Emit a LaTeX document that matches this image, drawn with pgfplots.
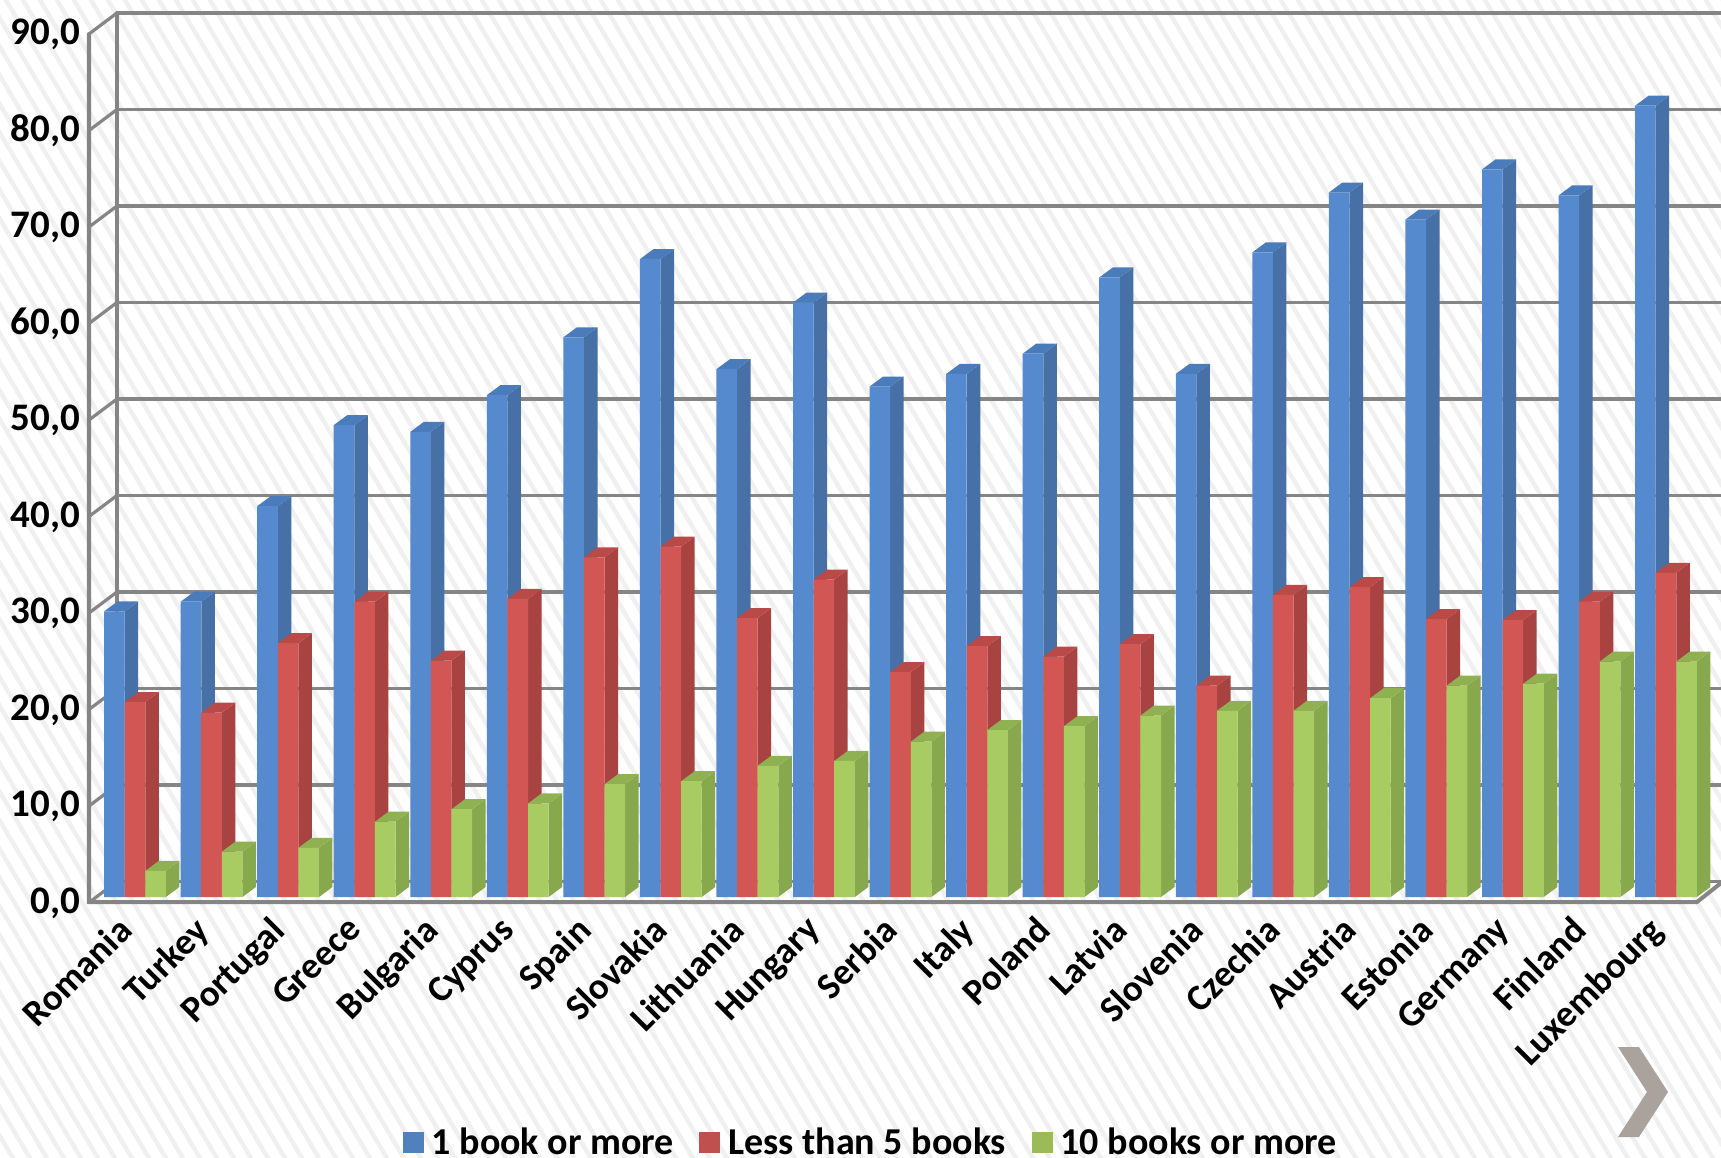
\documentclass[border=0pt]{standalone}
\usepackage{pgfplots}
\usepackage{pgfplotstable}
\pgfplotsset{compat=1.18}
\usepackage{fontspec}
\setmainfont{Carlito}
\definecolor{bF}{HTML}{558ACF}\definecolor{bS}{HTML}{4670A6}\definecolor{bT}{HTML}{4A7BBB}
\definecolor{rF}{HTML}{D25654}\definecolor{rS}{HTML}{A84341}\definecolor{rT}{HTML}{BA4A48}
\definecolor{gF}{HTML}{A8CC62}\definecolor{gS}{HTML}{88A84E}\definecolor{gT}{HTML}{90B152}
\definecolor{bL}{HTML}{4F81BD}\definecolor{rL}{HTML}{C0504D}\definecolor{gL}{HTML}{9BBB59}
\definecolor{wall}{HTML}{858585}
\definecolor{stripe}{HTML}{F0F0F0}
\definecolor{chev}{HTML}{A9A29D}
\pgfplotstableread{
idx one five ten
0 29.6 20.2 2.7
1 30.6 19.1 4.7
2 40.5 26.3 5.1
3 48.9 30.6 7.8
4 48.2 24.5 9.1
5 52.0 30.9 9.7
6 58.0 35.2 11.7
7 66.1 36.3 12.0
8 54.7 28.9 13.6
9 61.6 32.9 14.1
10 52.9 23.3 16.1
11 54.2 26.0 17.3
12 56.3 24.9 17.7
13 64.2 26.2 18.8
14 54.2 21.9 19.3
15 66.8 31.3 19.3
16 73.0 32.1 20.6
17 70.2 28.8 21.9
18 75.4 28.7 22.1
19 72.7 30.6 24.4
20 82.0 33.6 24.4
}\books
% side and top faces of one series: table column, group shift, side colour, top colour
\newcommand\faces[4]{%
  \pgfplotsforeachungrouped \i in {0,...,20}{%
    \pgfplotstablegetelem{\i}{#1}\of{\books}\let\v\pgfplotsretval
    \pgfmathsetmacro\xl{\i+(#2)-0.1345}%
    \pgfmathsetmacro\xr{\i+(#2)+0.1345}%
    \pgfmathsetmacro\xrd{\xr+0.1764}%
    \pgfmathsetmacro\xld{\xl+0.1764}%
    \pgfmathsetmacro\vd{\v+1.036}%
    \edef\cmd{\noexpand\addplot[forget plot,fill=#3,draw=none] coordinates {(\xr,0) (\xrd,1.036) (\xrd,\vd) (\xr,\v)} --cycle;
      \noexpand\addplot[forget plot,fill=#4,draw=none] coordinates {(\xl,\v) (\xld,\vd) (\xrd,\vd) (\xr,\v)} --cycle;}%
    \cmd
  }%
}
\begin{document}
\begin{tikzpicture}
\path[use as bounding box] (-44.5pt,-130.5pt) rectangle (816pt,448.5pt);
\begin{scope}[shift={(-44.5pt,448.5pt)},x=0.5pt,y=-0.5pt]
  \fill[white] (0,0) rectangle (1721,1158);
  \clip (0,0) rectangle (1721,1158);
  \foreach \k in {-45,...,105}{
    \draw[stripe,line width=2.2pt] ({\k*17},-10) -- ({\k*17+700},1170);
  }
  % back wall, grid, floor
  \begin{scope}[wall,line cap=round]
    \foreach \k in {0,...,9}{
      \draw[line width=1.6pt] (117,{13+96.5*\k}) -- (1721,{13+96.5*\k});
      \draw[line width=1.6pt] (89,{34+96.5*\k}) -- (117,{13+96.5*\k});
    }
    \draw[line width=1.9pt] (117,13) -- (117,882);
    \draw[line width=2pt] (89,34) -- (89,902) -- (1697,902) -- (1721,883);
  \end{scope}
  \fill[chev] (1618,1047) -- (1639,1047) -- (1668,1092) -- (1639,1137) -- (1618,1137) -- (1647,1092) -- cycle;
\end{scope}
\begin{axis}[
  at={(0,0)},anchor=south west,
  scale only axis,width=804pt,height=434.25pt,
  xmin=-0.6009,xmax=20.405,ymin=0,ymax=90,
  clip=false,
  axis line style={draw=none},
  tick style={draw=none},
  xtick={0,...,20},
  xticklabels={Romania,Turkey,Portugal,Greece,Bulgaria,Cyprus,Spain,Slovakia,Lithuania,Hungary,Serbia,Italy,Poland,Latvia,Slovenia,Czechia,Austria,Estonia,Germany,Finland,Luxembourg},
  xticklabel style={rotate=45,anchor=north east,inner sep=0pt,font=\fontsize{18.5}{20}\selectfont\bfseries,yshift=0.85pt,xshift=-12.9pt},
  ytick={0,10,...,90},
  yticklabel style={anchor=east,inner sep=0pt,xshift=-4.2pt,yshift=-3pt,font=\fontsize{19.5}{22}\selectfont\bfseries,
    /pgf/number format/.cd,fixed,fixed zerofill,precision=1,use comma,assume math mode=true},
  legend style={at={(0.4865,-0.283)},anchor=center,draw=none,fill=none,legend columns=3,
    font=\fontsize{19}{20}\selectfont\bfseries,
    /tikz/every even column/.style={column sep=11.3pt},
    /tikz/every odd column/.style={column sep=2.5pt},inner sep=0pt,
    nodes={inner sep=1.5pt}},
  legend image code/.code={\path[#1,draw=none] (0pt,-5pt) rectangle (10.5pt,5.5pt);},
  bar width=10.3pt,
]
\addlegendimage{fill=bL}\addlegendentry{1 book or more}
\addlegendimage{fill=rL}\addlegendentry{Less than 5 books}
\addlegendimage{fill=gL}\addlegendentry{10 books or more}
\faces{one}{-0.269}{bS}{bT}
\addplot[forget plot,ybar,bar shift=-10.3pt,fill=bF,draw=none] table[x=idx,y=one]{\books};
\faces{five}{0}{rS}{rT}
\addplot[forget plot,ybar,bar shift=0pt,fill=rF,draw=none] table[x=idx,y=five]{\books};
\faces{ten}{0.269}{gS}{gT}
\addplot[forget plot,ybar,bar shift=10.3pt,fill=gF,draw=none] table[x=idx,y=ten]{\books};
\end{axis}
\end{tikzpicture}
\end{document}
